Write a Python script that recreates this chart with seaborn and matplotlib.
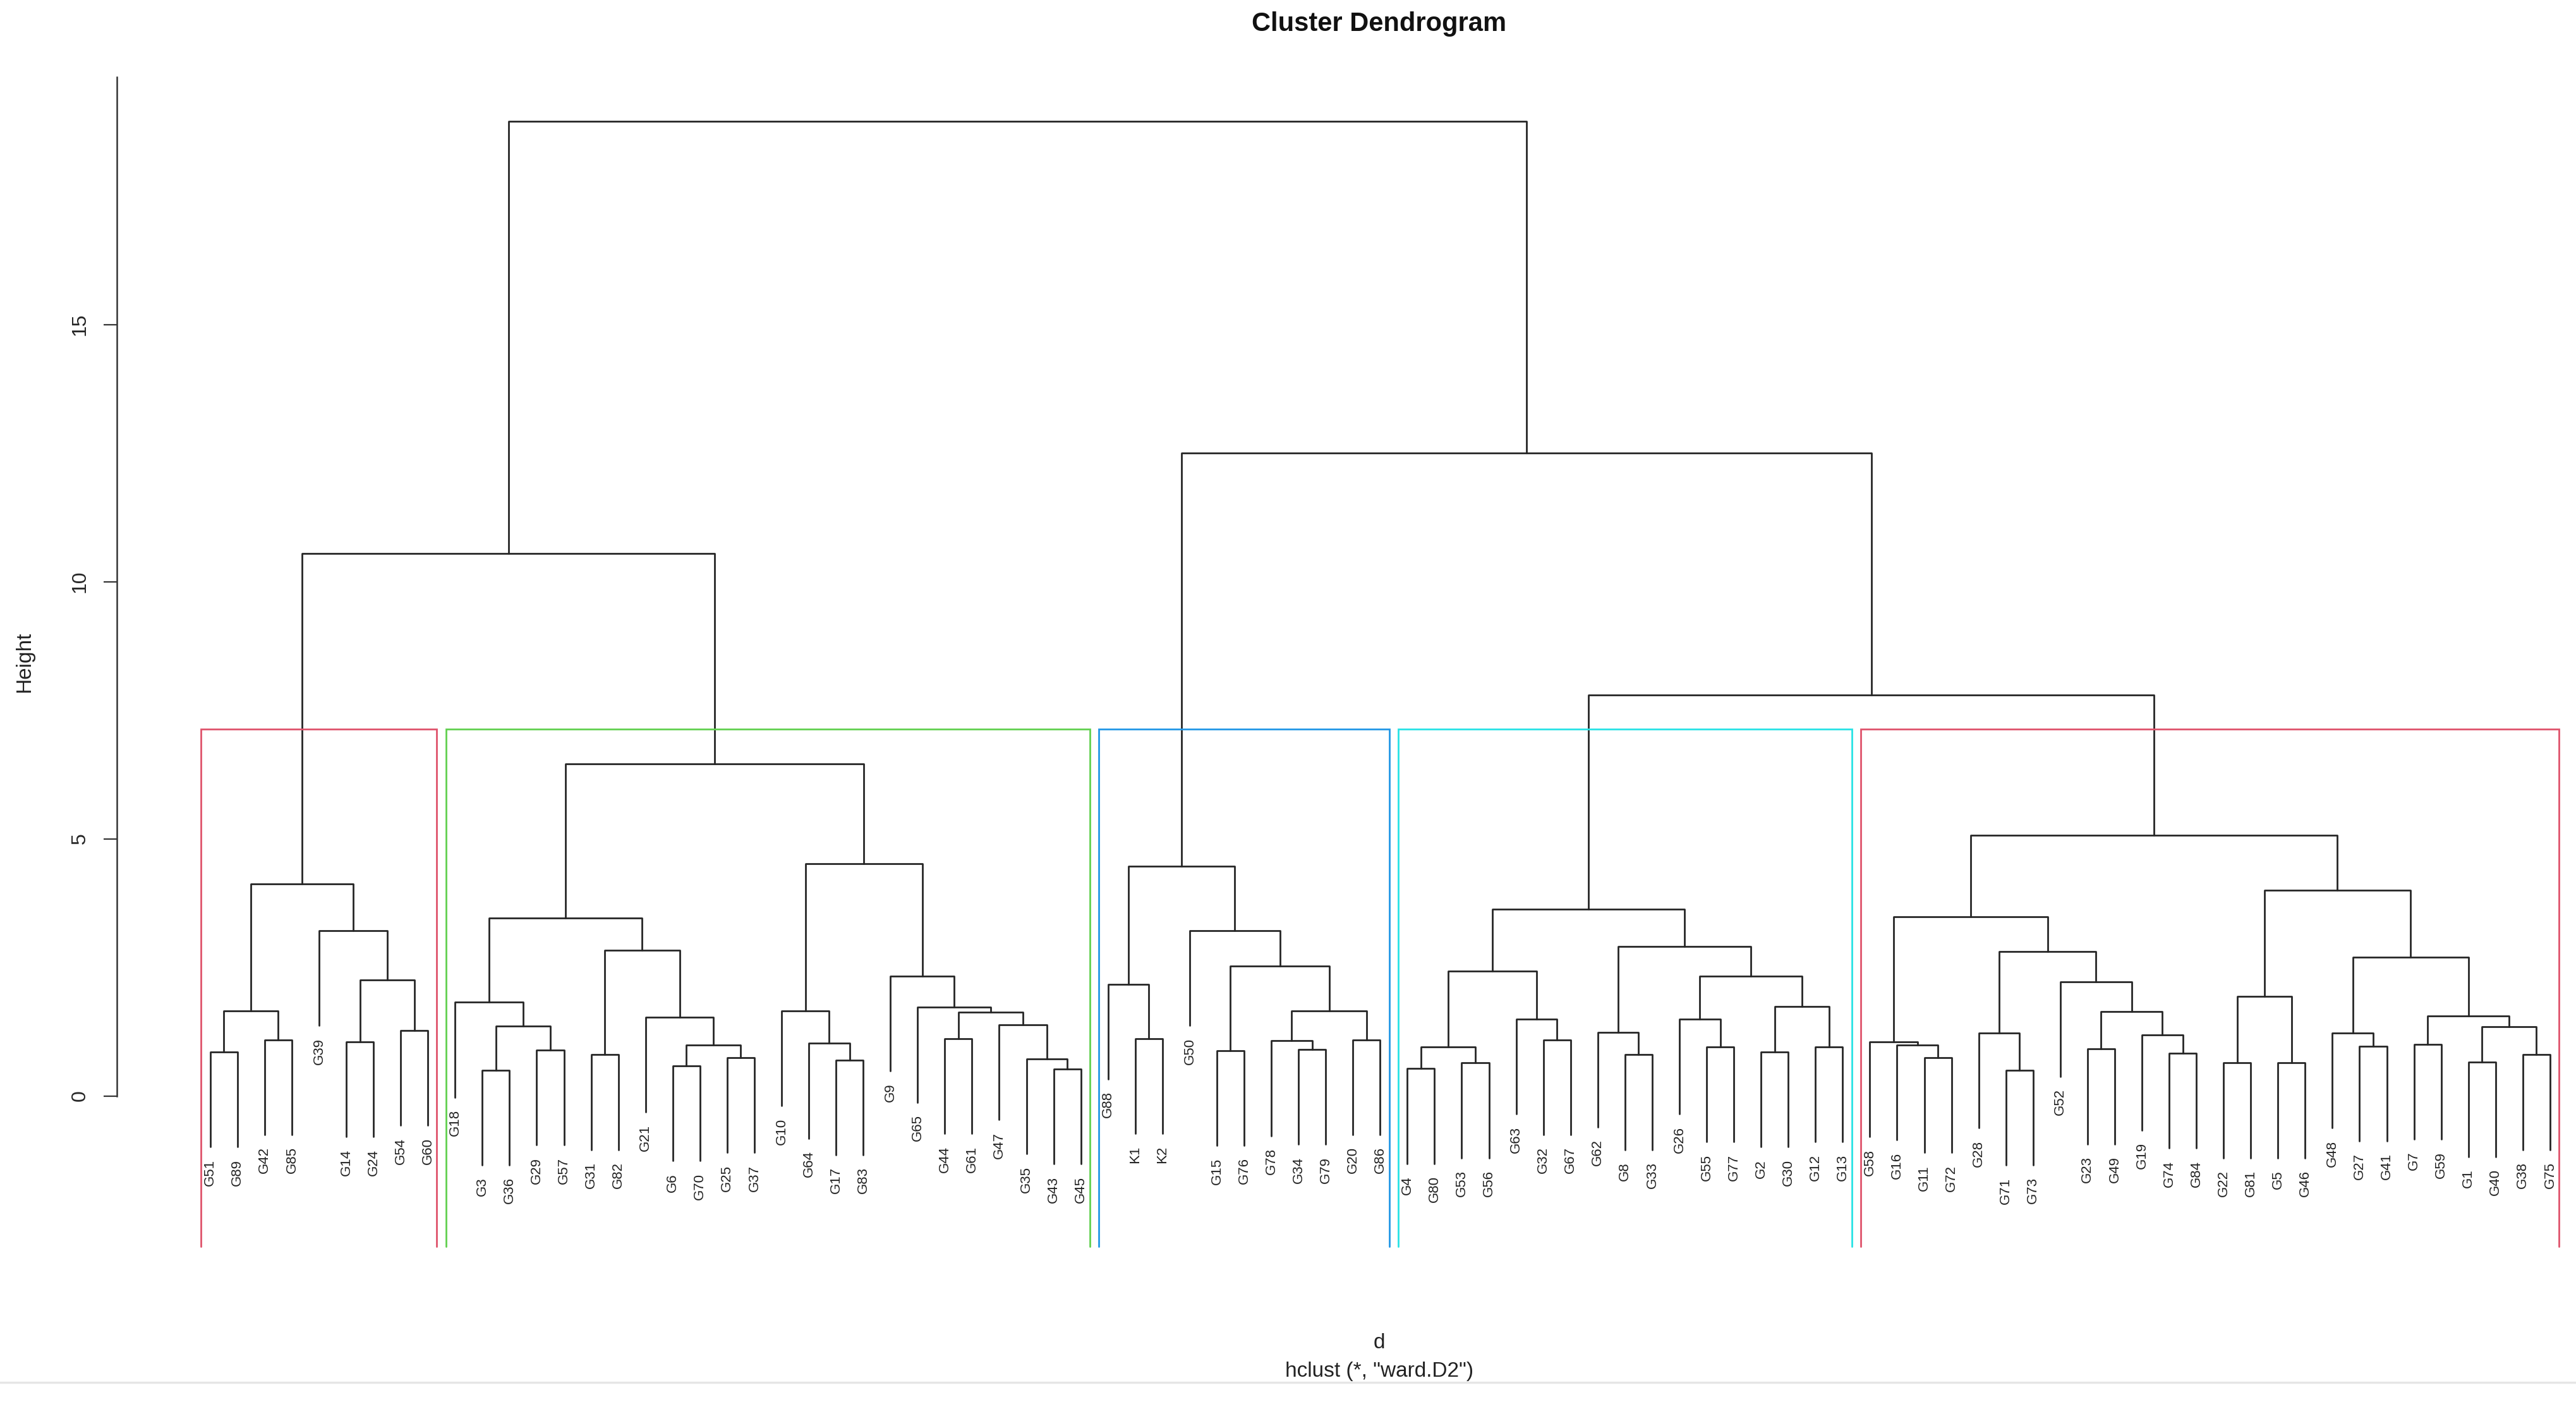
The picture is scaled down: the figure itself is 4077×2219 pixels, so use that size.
import numpy as np
import pandas as pd
import matplotlib
matplotlib.use("Agg")
import matplotlib.pyplot as plt
from matplotlib.lines import Line2D
import seaborn as sns

# ---- data: subtrees as (left, right, merge height) ----
tree_c1 = ((("G51", "G89", 0.85), ("G42", "G85", 1.09), 1.65),
           ("G39", (("G14", "G24", 1.05), ("G54", "G60", 1.27), 2.26), 3.21), 4.12)

tree_c2 = ((("G18", (("G3", "G36", 0.50), ("G29", "G57", 0.89), 1.36), 1.82),
            (("G31", "G82", 0.80),
             ("G21", (("G6", "G70", 0.58), ("G25", "G37", 0.74), 0.99), 1.53), 2.83), 3.46),
           (("G10", ("G64", ("G17", "G83", 0.70), 1.02), 1.65),
            ("G9", ("G65", (("G44", "G61", 1.11),
                            ("G47", ("G35", ("G43", "G45", 0.52), 0.72), 1.38), 1.63), 1.72), 2.33), 4.52),
           6.46)

tree_c3 = (("G88", ("K1", "K2", 1.11), 2.17),
           ("G50", (("G15", "G76", 0.88),
                    (("G78", ("G34", "G79", 0.90), 1.07), ("G20", "G86", 1.09), 1.65), 2.53), 3.21), 4.47)

tree_c4 = (((("G4", "G80", 0.53), ("G53", "G56", 0.64), 0.95), ("G63", ("G32", "G67", 1.09), 1.49), 2.43),
           (("G62", ("G8", "G33", 0.80), 1.24),
            (("G26", ("G55", "G77", 0.95), 1.49), (("G2", "G30", 0.85), ("G12", "G13", 0.95), 1.74), 2.33),
            2.91), 3.63)

tree_c5 = ((("G58", ("G16", ("G11", "G72", 0.74), 0.99), 1.05),
            (("G28", ("G71", "G73", 0.50), 1.22),
             ("G52", (("G23", "G49", 0.91), ("G19", ("G74", "G84", 0.83), 1.18), 1.64), 2.22), 2.81), 3.48),
           ((("G22", "G81", 0.64), ("G5", "G46", 0.64), 1.94),
            (("G48", ("G27", "G41", 0.97), 1.22),
             (("G7", "G59", 1.00), (("G1", "G40", 0.66), ("G38", "G75", 0.80), 1.35), 1.56), 2.70), 4.00),
           5.07)

h_c1_c2 = 10.55
h_c4_c5 = 7.80
h_c3_c45 = 12.50
h_root = 18.95

cluster_trees = [tree_c1, tree_c2, tree_c3, tree_c4, tree_c5]
cluster_colors = ["#DF536B", "#61D04F", "#2297E6", "#28E2E5", "#DF536B"]
y_ticks = [0, 5, 10, 15]

tree = ((tree_c1, tree_c2, h_c1_c2), (tree_c3, (tree_c4, tree_c5, h_c4_c5), h_c3_c45), h_root)

# ---- layout ----
def leaves_of(node, out):
    if isinstance(node, str):
        out.append(node)
    else:
        leaves_of(node[0], out)
        leaves_of(node[1], out)
    return out

def heights_of(node, out):
    if not isinstance(node, str):
        out.append(node[2])
        heights_of(node[0], out)
        heights_of(node[1], out)
    return out

leaves = leaves_of(tree, [])
pos = {lab: i + 1 for i, lab in enumerate(leaves)}
all_h = heights_of(tree, [])
hang = 0.1 * (max(all_h) - min(all_h))
n = len(leaves)

rows = []
leaf_end = {}
seg_id = [0]

def layout(node):
    if isinstance(node, str):
        return float(pos[node]), None, node
    xl, hl, labl = layout(node[0])
    xr, hr, labr = layout(node[1])
    h = node[2]
    yl = hl if hl is not None else h - hang
    yr = hr if hr is not None else h - hang
    if hl is None:
        leaf_end[labl] = yl
    if hr is None:
        leaf_end[labr] = yr
    s = seg_id[0]
    for (x, y) in [(xl, yl), (xl, h), (xr, h), (xr, yr)]:
        rows.append({"x": x, "y": y, "seg": s})
    seg_id[0] += 1
    return (xl + xr) / 2.0, h, None

layout(tree)
df = pd.DataFrame(rows)

# ---- figure ----
sns.set_theme(style="white")
plt.rcParams["font.family"] = ["Liberation Sans", "DejaVu Sans"]

W, H = 4077, 2219
fig = plt.figure(figsize=(W / 100, H / 100), dpi=100)
ax_left, ax_bottom_px, ax_top_px = 184.6, 1973, 122
ax = fig.add_axes([ax_left / W, 1 - ax_bottom_px / H, 1 - ax_left / W, (ax_bottom_px - ax_top_px) / H])

sns.lineplot(data=df, x="x", y="y", units="seg", estimator=None, sort=False,
             color="#262626", linewidth=2.0, ax=ax, legend=False)

xlo = 1 - 0.04 * (n - 1)
px_per_leaf = 43.06
xhi = 1 + (W - (ax_left + (1 - xlo) * px_per_leaf)) / px_per_leaf
ylo, yhi = -2.93, 19.81
ax.set_xlim(xlo, xhi)
ax.set_ylim(ylo, yhi)

# leaf labels
for lab in leaves:
    ax.annotate(lab, xy=(pos[lab], leaf_end[lab]), xytext=(0, -14), textcoords="offset points",
                rotation=90, ha="center", va="top", fontsize=16, color="#222222")

# cluster rectangles (rect.hclust style)
sorted_h = sorted(all_h, reverse=True)
k = len(cluster_trees)
box_top = (sorted_h[k - 2] + sorted_h[k - 1]) / 2.0
start = 1
for t, col in zip(cluster_trees, cluster_colors):
    size = len(leaves_of(t, []))
    x0 = start - 0.34
    x1 = start + size - 1 + 0.33
    ax.plot([x0, x0, x1, x1], [ylo, box_top, box_top, ylo], color=col, lw=2.0, clip_on=False,
            solid_joinstyle="miter")
    start += size

# axes styling
for side in ["top", "right", "bottom"]:
    ax.spines[side].set_visible(False)
ax.spines["left"].set_color("#333333")
ax.spines["left"].set_linewidth(1.8)
ax.spines["left"].set_bounds(0, yhi)
ax.set_xticks([])
ax.set_yticks(y_ticks)
ax.set_yticklabels([str(v) for v in y_ticks])
ax.tick_params(axis="y", direction="out", length=15, width=1.6, color="#333333",
               labelsize=23, pad=16, left=True, labelrotation=90)
for lab in ax.get_yticklabels():
    lab.set_va("center")
    lab.set_ha("right")
ax.set_xlabel("")
ax.set_ylabel("")
ax.grid(False)
ax.set_facecolor("white")

cx = (ax_left + (ax_left + (xhi - xlo) * px_per_leaf + 0)) / 2.0
cx = 2183 / W
fig.text(cx, 1 - 38 / H, "Cluster Dendrogram", ha="center", va="center",
         fontsize=30, fontweight="bold", color="#111111")
fig.text(39 / W, 1 - 1048 / H, "Height", rotation=90, ha="center", va="center",
         fontsize=24, color="#222222")
fig.text(cx, 1 - 2125 / H, "d", ha="center", va="center", fontsize=24, color="#222222")
fig.text(cx, 1 - 2170 / H, "hclust (*, \"ward.D2\")", ha="center", va="center",
         fontsize=24, color="#222222")
fig.add_artist(Line2D([0, 1], [1 - 2188 / H, 1 - 2188 / H], color="#e6e6e6", lw=2.5,
                      transform=fig.transFigure))

fig.savefig("out.png", dpi=100, facecolor="white")
